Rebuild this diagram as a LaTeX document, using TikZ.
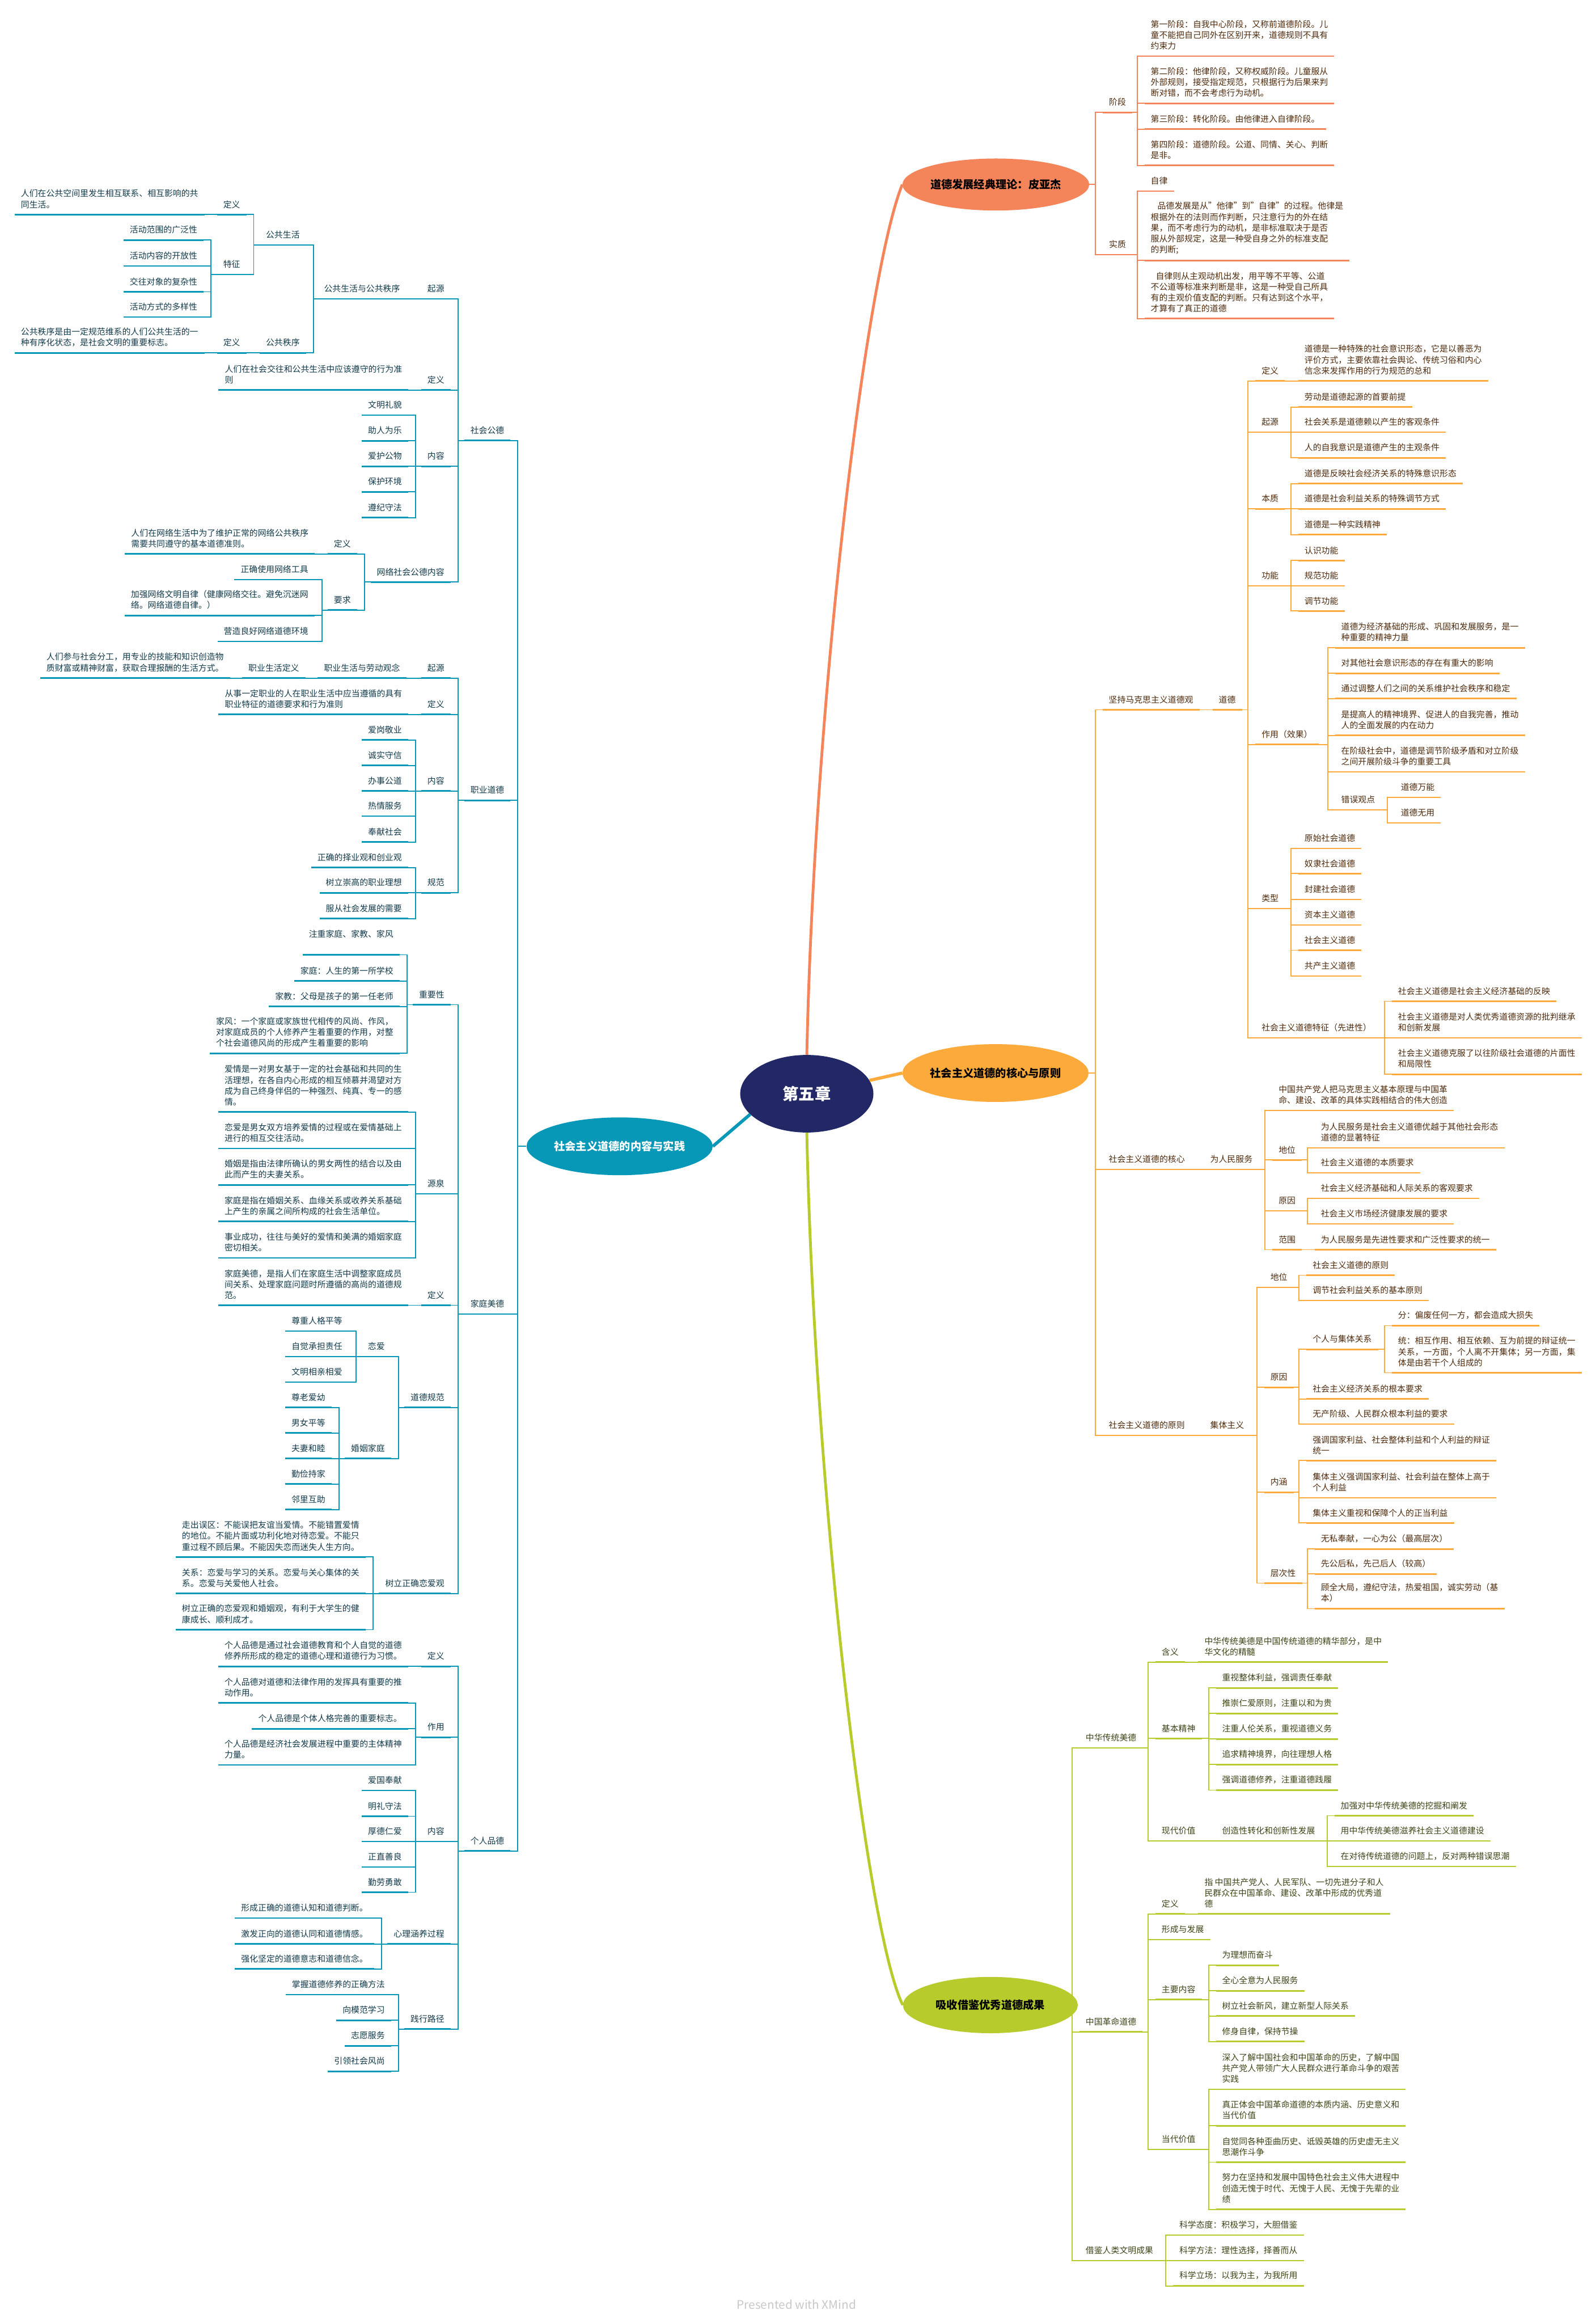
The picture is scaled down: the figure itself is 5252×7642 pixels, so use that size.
\documentclass[tikz,border=0pt]{standalone}
\usepackage{fontspec}
\setmainfont{Noto Sans CJK SC}
\usetikzlibrary{shapes.geometric, calc}
\definecolor{mmCoral}{HTML}{F4845A}
\definecolor{mmOrange}{HTML}{FBAA3B}
\definecolor{mmTeal}{HTML}{0798B8}
\definecolor{mmGreen}{HTML}{B8CB2C}
\definecolor{mmNavy}{HTML}{222766}
\definecolor{mmBrown}{HTML}{4E2A0C}
\definecolor{mmInk}{HTML}{123A4A}
\definecolor{mmOlive}{HTML}{3D4316}
\definecolor{mmMark}{HTML}{C8C8C8}
\newcommand{\topicfont}{\fontsize{7.9pt}{10.15pt}\selectfont}
\newcommand{\branchfont}{\fontsize{10.2pt}{12pt}\selectfont\bfseries}
\newcommand{\hubfont}{\fontsize{15pt}{18pt}\selectfont\bfseries}
\tikzset{
  topic/.style={inner xsep=0.2cm, inner ysep=0.2cm, font=\topicfont, align=left},
  cTopic/.style={topic, anchor=south west, text=mmBrown,
    append after command={(\tikzlastnode.south west) edge[draw=mmCoral, line width=1.4pt] (\tikzlastnode.south east)}},
  oTopic/.style={topic, anchor=south west, text=mmBrown,
    append after command={(\tikzlastnode.south west) edge[draw=mmOrange, line width=1.4pt] (\tikzlastnode.south east)}},
  gTopic/.style={topic, anchor=south west, text=mmOlive,
    append after command={(\tikzlastnode.south west) edge[draw=mmGreen, line width=1.4pt] (\tikzlastnode.south east)}},
  tTopic/.style={topic, anchor=south east, text=mmInk,
    append after command={(\tikzlastnode.south west) edge[draw=mmTeal, line width=1.4pt] (\tikzlastnode.south east)}},
  cLink/.style={draw=mmCoral, line width=1pt},
  oLink/.style={draw=mmOrange, line width=1pt},
  gLink/.style={draw=mmGreen, line width=1pt},
  tLink/.style={draw=mmTeal, line width=1pt},
  branch/.style={ellipse, inner sep=0pt, font=\branchfont},
  hub/.style={ellipse, fill=mmNavy, text=white, inner sep=0pt, font=\hubfont,
    minimum width=4.38cm, minimum height=2.55cm},
}

\begin{document}
\begin{tikzpicture}[x=0.01cm, y=-0.01cm]
  \useasboundingbox (0,0) rectangle (5252,7642);

  % centre and main topics
  \node[hub] (hub) at (2655,3598) {第五章};
  \node[branch, fill=mmCoral, minimum width=6.14cm, minimum height=1.71cm] (piaget) at (3277,607) {道德发展经典理论：皮亚杰};
  \node[branch, fill=mmOrange, minimum width=6.12cm, minimum height=1.9cm] (core) at (3276,3530) {社会主义道德的核心与原则};
  \node[branch, fill=mmTeal, text=white, minimum width=6.12cm, minimum height=1.9cm] (practice) at (2039,3771) {社会主义道德的内容与实践};
  \node[branch, fill=mmGreen, minimum width=5.75cm, minimum height=1.85cm] (absorb) at (3259,6596) {吸收借鉴优秀道德成果};

  \draw[line width=2.6pt, mmCoral] (hub.north) .. controls (2680,2300) and (2850,900) .. (piaget.west);
  \draw[line width=3pt, mmOrange] (hub.12) -- (core.west);
  \draw[line width=3pt, mmTeal] (hub.200) -- (practice.east);
  \draw[line width=2.6pt, mmGreen] (hub.south) .. controls (2680,4900) and (2850,6350) .. (absorb.west);

  % Piaget
  \node[cTopic] (c-stage) at (3629,370) {阶段};
  \node[cTopic] (c-essence) at (3629,838) {实质};
  \node[cTopic] (c-s1) at (3766,185) {第一阶段：自我中心阶段，又称前道德阶段。儿\\童不能把自己同外在区别开来，道德规则不具有\\约束力};
  \node[cTopic] (c-s2) at (3766,340) {第二阶段：他律阶段，又称权威阶段。儿童服从\\外部规则，接受指定规范，只根据行为后果来判\\断对错，而不会考虑行为动机。};
  \node[cTopic] (c-s3) at (3766,425) {第三阶段：转化阶段。由他律进入自律阶段。};
  \node[cTopic] (c-s4) at (3766,544) {第四阶段：道德阶段。公道、同情、关心、判断\\是非。};
  \node[cTopic] (c-e1) at (3766,629) {自律};
  \node[cTopic] (c-e2) at (3766,857) {\hspace*{0.8em}品德发展是从"他律"到"自律"的过程。他律是\\根据外在的法则而作判断，只注意行为的外在结\\果，而不考虑行为的动机，是非标准取决于是否\\服从外部规定，这是一种受自身之外的标准支配\\的判断;};
  \node[cTopic] (c-e3) at (3766,1048) {\hspace*{0.6em}自律则从主观动机出发，用平等不平等、公道\\不公道等标准来判断是非，这是一种受自己所具\\有的主观价值支配的判断。只有达到这个水平，\\才算有了真正的道德};

  \coordinate (piaget-v) at (3605,607);
  \foreach \k in {c-stage,c-essence} \draw[cLink] (piaget.east) -- (piaget-v) |- (\k.south west);
  \coordinate (c-stage-v) at (3742,370);
  \foreach \k in {c-s1,c-s2,c-s3,c-s4} \draw[cLink] (c-stage.south east) -- (c-stage-v) |- (\k.south west);
  \coordinate (c-essence-v) at (3742,838);
  \foreach \k in {c-e1,c-e2,c-e3} \draw[cLink] (c-essence.south east) -- (c-essence-v) |- (\k.south west);

  % core and principle
  \node[oTopic] (o-view) at (3628,2335) {坚持马克思主义道德观};
  \node[oTopic] (o-core) at (3628,3847) {社会主义道德的核心};
  \node[oTopic] (o-prin) at (3628,4722) {社会主义道德的原则};
  \node[oTopic] (o-moral) at (3990,2335) {道德};
  \node[oTopic] (o-def) at (4131,1253) {定义};
  \node[oTopic] (o-orig) at (4131,1422) {起源};
  \node[oTopic] (o-ess) at (4131,1674) {本质};
  \node[oTopic] (o-func) at (4131,1927) {功能};
  \node[oTopic] (o-role) at (4131,2449) {作用（效果）};
  \node[oTopic] (o-type) at (4131,2989) {类型};
  \node[oTopic] (o-feat) at (4131,3414) {社会主义道德特征（先进性）};
  \node[oTopic] (o-def1) at (4272,1253) {道德是一种特殊的社会意识形态，它是以善恶为\\评价方式，主要依靠社会舆论、传统习俗和内心\\信念来发挥作用的行为规范的总和};
  \node[oTopic] (o-orig1) at (4272,1339) {劳动是道德起源的首要前提};
  \node[oTopic] (o-orig2) at (4272,1422) {社会关系是道德赖以产生的客观条件};
  \node[oTopic] (o-orig3) at (4272,1506) {人的自我意识是道德产生的主观条件};
  \node[oTopic] (o-ess1) at (4272,1591) {道德是反映社会经济关系的特殊意识形态};
  \node[oTopic] (o-ess2) at (4272,1674) {道德是社会利益关系的特殊调节方式};
  \node[oTopic] (o-ess3) at (4272,1759) {道德是一种实践精神};
  \node[oTopic] (o-func1) at (4272,1844) {认识功能};
  \node[oTopic] (o-func2) at (4272,1927) {规范功能};
  \node[oTopic] (o-func3) at (4272,2010) {调节功能};
  \node[oTopic] (o-role1) at (4393,2131) {道德为经济基础的形成、巩固和发展服务，是一\\种重要的精神力量};
  \node[oTopic] (o-role2) at (4393,2215) {对其他社会意识形态的存在有重大的影响};
  \node[oTopic] (o-role3) at (4393,2298) {通过调整人们之间的关系维护社会秩序和稳定};
  \node[oTopic] (o-role4) at (4393,2419) {是提高人的精神境界、促进人的自我完善，推动\\人的全面发展的内在动力};
  \node[oTopic] (o-role5) at (4393,2539) {在阶级社会中，道德是调节阶级矛盾和对立阶级\\之间开展阶级斗争的重要工具};
  \node[oTopic] (o-wrong) at (4393,2664) {错误观点};
  \node[oTopic] (o-wrong1) at (4589,2623) {道德万能};
  \node[oTopic] (o-wrong2) at (4589,2707) {道德无用};
  \node[oTopic] (o-type1) at (4272,2791) {原始社会道德};
  \node[oTopic] (o-type2) at (4272,2874) {奴隶社会道德};
  \node[oTopic] (o-type3) at (4272,2959) {封建社会道德};
  \node[oTopic] (o-type4) at (4272,3043) {资本主义道德};
  \node[oTopic] (o-type5) at (4272,3126) {社会主义道德};
  \node[oTopic] (o-type6) at (4272,3211) {共产主义道德};
  \node[oTopic] (o-feat1) at (4580,3294) {社会主义道德是社会主义经济基础的反映};
  \node[oTopic] (o-feat2) at (4580,3414) {社会主义道德是对人类优秀道德资源的批判继承\\和创新发展};
  \node[oTopic] (o-feat3) at (4580,3534) {社会主义道德克服了以往阶级社会道德的片面性\\和局限性};
  \node[oTopic] (o-serve) at (3962,3847) {为人民服务};
  \node[oTopic] (o-serve1) at (4187,3653) {中国共产党人把马克思主义基本原理与中国革\\命、建设、改革的具体实践相结合的伟大创造};
  \node[oTopic] (o-pos) at (4187,3816) {地位};
  \node[oTopic] (o-why) at (4187,3983) {原因};
  \node[oTopic] (o-scope) at (4187,4111) {范围};
  \node[oTopic] (o-pos1) at (4326,3776) {为人民服务是社会主义道德优越于其他社会形态\\道德的显著特征};
  \node[oTopic] (o-pos2) at (4326,3858) {社会主义道德的本质要求};
  \node[oTopic] (o-why1) at (4326,3942) {社会主义经济基础和人际关系的客观要求};
  \node[oTopic] (o-why2) at (4326,4026) {社会主义市场经济健康发展的要求};
  \node[oTopic] (o-scope1) at (4326,4111) {为人民服务是先进性要求和广泛性要求的统一};
  \node[oTopic] (o-coll) at (3962,4722) {集体主义};
  \node[oTopic] (o-cpos) at (4160,4235) {地位};
  \node[oTopic] (o-cwhy) at (4160,4564) {原因};
  \node[oTopic] (o-cmean) at (4160,4909) {内涵};
  \node[oTopic] (o-clevel) at (4160,5208) {层次性};
  \node[oTopic] (o-cpos1) at (4299,4195) {社会主义道德的原则};
  \node[oTopic] (o-cpos2) at (4299,4278) {调节社会利益关系的基本原则};
  \node[oTopic] (o-rel) at (4299,4439) {个人与集体关系};
  \node[oTopic] (o-cwhy2) at (4299,4602) {社会主义经济关系的根本要求};
  \node[oTopic] (o-cwhy3) at (4299,4685) {无产阶级、人民群众根本利益的要求};
  \node[oTopic] (o-rel1) at (4580,4361) {分：偏废任何一方，都会造成大损失};
  \node[oTopic] (o-rel2) at (4580,4516) {统：相互作用、相互依赖、互为前提的辩证统一\\关系，一方面，个人离不开集体；另一方面，集\\体是由若干个人组成的};
  \node[oTopic] (o-cmean1) at (4299,4805) {强调国家利益、社会整体利益和个人利益的辩证\\统一};
  \node[oTopic] (o-cmean2) at (4299,4927) {集体主义强调国家利益、社会利益在整体上高于\\个人利益};
  \node[oTopic] (o-cmean3) at (4299,5010) {集体主义重视和保障个人的正当利益};
  \node[oTopic] (o-level1) at (4326,5096) {无私奉献，一心为公（最高层次）};
  \node[oTopic] (o-level2) at (4326,5178) {先公后私，先己后人（较高）};
  \node[oTopic] (o-level3) at (4326,5292) {顾全大局，遵纪守法，热爱祖国，诚实劳动（基\\本）};

  \coordinate (core-v) at (3604,3530);
  \foreach \k in {o-view,o-core,o-prin} \draw[oLink] (core.east) -- (core-v) |- (\k.south west);
  \draw[oLink] (o-view.south east) -- (o-moral.south west);
  \coordinate (o-moral-v) at (4107,2335);
  \foreach \k in {o-def,o-orig,o-ess,o-func,o-role,o-type,o-feat} \draw[oLink] (o-moral.south east) -- (o-moral-v) |- (\k.south west);
  \draw[oLink] (o-def.south east) -- (o-def1.south west);
  \coordinate (o-orig-v) at (4248,1422);
  \foreach \k in {o-orig1,o-orig2,o-orig3} \draw[oLink] (o-orig.south east) -- (o-orig-v) |- (\k.south west);
  \coordinate (o-ess-v) at (4248,1674);
  \foreach \k in {o-ess1,o-ess2,o-ess3} \draw[oLink] (o-ess.south east) -- (o-ess-v) |- (\k.south west);
  \coordinate (o-func-v) at (4248,1927);
  \foreach \k in {o-func1,o-func2,o-func3} \draw[oLink] (o-func.south east) -- (o-func-v) |- (\k.south west);
  \coordinate (o-role-v) at (4369,2449);
  \foreach \k in {o-role1,o-role2,o-role3,o-role4,o-role5,o-wrong} \draw[oLink] (o-role.south east) -- (o-role-v) |- (\k.south west);
  \coordinate (o-wrong-v) at (4565,2664);
  \foreach \k in {o-wrong1,o-wrong2} \draw[oLink] (o-wrong.south east) -- (o-wrong-v) |- (\k.south west);
  \coordinate (o-type-v) at (4248,2989);
  \foreach \k in {o-type1,o-type2,o-type3,o-type4,o-type5,o-type6} \draw[oLink] (o-type.south east) -- (o-type-v) |- (\k.south west);
  \coordinate (o-feat-v) at (4556,3414);
  \foreach \k in {o-feat1,o-feat2,o-feat3} \draw[oLink] (o-feat.south east) -- (o-feat-v) |- (\k.south west);
  \draw[oLink] (o-core.south east) -- (o-serve.south west);
  \coordinate (o-serve-v) at (4163,3847);
  \foreach \k in {o-serve1,o-pos,o-why,o-scope} \draw[oLink] (o-serve.south east) -- (o-serve-v) |- (\k.south west);
  \coordinate (o-pos-v) at (4302,3816);
  \foreach \k in {o-pos1,o-pos2} \draw[oLink] (o-pos.south east) -- (o-pos-v) |- (\k.south west);
  \coordinate (o-why-v) at (4302,3983);
  \foreach \k in {o-why1,o-why2} \draw[oLink] (o-why.south east) -- (o-why-v) |- (\k.south west);
  \draw[oLink] (o-scope.south east) -- (o-scope1.south west);
  \draw[oLink] (o-prin.south east) -- (o-coll.south west);
  \coordinate (o-coll-v) at (4136,4722);
  \foreach \k in {o-cpos,o-cwhy,o-cmean,o-clevel} \draw[oLink] (o-coll.south east) -- (o-coll-v) |- (\k.south west);
  \coordinate (o-cpos-v) at (4275,4235);
  \foreach \k in {o-cpos1,o-cpos2} \draw[oLink] (o-cpos.south east) -- (o-cpos-v) |- (\k.south west);
  \coordinate (o-cwhy-v) at (4275,4564);
  \foreach \k in {o-rel,o-cwhy2,o-cwhy3} \draw[oLink] (o-cwhy.south east) -- (o-cwhy-v) |- (\k.south west);
  \coordinate (o-rel-v) at (4556,4439);
  \foreach \k in {o-rel1,o-rel2} \draw[oLink] (o-rel.south east) -- (o-rel-v) |- (\k.south west);
  \coordinate (o-cmean-v) at (4275,4909);
  \foreach \k in {o-cmean1,o-cmean2,o-cmean3} \draw[oLink] (o-cmean.south east) -- (o-cmean-v) |- (\k.south west);
  \coordinate (o-clevel-v) at (4302,5208);
  \foreach \k in {o-level1,o-level2,o-level3} \draw[oLink] (o-clevel.south east) -- (o-clevel-v) |- (\k.south west);

  % absorbing good moral heritage
  \node[gTopic] (g-trad) at (3552,5750) {中华传统美德};
  \node[gTopic] (g-rev) at (3552,6684) {中国革命道德};
  \node[gTopic] (g-civ) at (3552,7437) {借鉴人类文明成果};
  \node[gTopic] (g-mean) at (3802,5468) {含义};
  \node[gTopic] (g-spirit) at (3802,5719) {基本精神};
  \node[gTopic] (g-value) at (3802,6056) {现代价值};
  \node[gTopic] (g-mean1) at (3943,5468) {中华传统美德是中国传统道德的精华部分，是中\\华文化的精髓};
  \node[gTopic] (g-sp1) at (4001,5553) {重视整体利益，强调责任奉献};
  \node[gTopic] (g-sp2) at (4001,5637) {推崇仁爱原则，注重以和为贵};
  \node[gTopic] (g-sp3) at (4001,5721) {注重人伦关系，重视道德义务};
  \node[gTopic] (g-sp4) at (4001,5805) {追求精神境界，向往理想人格};
  \node[gTopic] (g-sp5) at (4001,5889) {强调道德修养，注重道德践履};
  \node[gTopic] (g-transform) at (4001,6056) {创造性转化和创新性发展};
  \node[gTopic] (g-tf1) at (4391,5973) {加强对中华传统美德的挖掘和阐发};
  \node[gTopic] (g-tf2) at (4391,6056) {用中华传统美德滋养社会主义道德建设};
  \node[gTopic] (g-tf3) at (4391,6140) {在对待传统道德的问题上，反对两种错误思潮};
  \node[gTopic] (g-rdef) at (3802,6296) {定义};
  \node[gTopic] (g-rdev) at (3802,6381) {形成与发展};
  \node[gTopic] (g-rcont) at (3802,6578) {主要内容};
  \node[gTopic] (g-rval) at (3802,7071) {当代价值};
  \node[gTopic] (g-rdef1) at (3943,6296) {指 中国共产党人、人民军队、一切先进分子和人\\民群众在中国革命、建设、改革中形成的优秀道\\德};
  \node[gTopic] (g-rc1) at (4001,6465) {为理想而奋斗};
  \node[gTopic] (g-rc2) at (4001,6549) {全心全意为人民服务};
  \node[gTopic] (g-rc3) at (4001,6632) {树立社会新风，建立新型人际关系};
  \node[gTopic] (g-rc4) at (4001,6716) {修身自律，保持节操};
  \node[gTopic] (g-rv1) at (4001,6873) {深入了解中国社会和中国革命的历史，了解中国\\共产党人带领广大人民群众进行革命斗争的艰苦\\实践};
  \node[gTopic] (g-rv2) at (4001,6993) {真正体会中国革命道德的本质内涵、历史意义和\\当代价值};
  \node[gTopic] (g-rv3) at (4001,7113) {自觉同各种歪曲历史、诋毁英雄的历史虚无主义\\思潮作斗争};
  \node[gTopic] (g-rv4) at (4001,7268) {努力在坚持和发展中国特色社会主义伟大进程中\\创造无愧于时代、无愧于人民、无愧于先辈的业\\绩};
  \node[gTopic] (g-civ1) at (3860,7353) {科学态度：积极学习，大胆借鉴};
  \node[gTopic] (g-civ2) at (3860,7437) {科学方法：理性选择，择善而从};
  \node[gTopic] (g-civ3) at (3860,7520) {科学立场：以我为主，为我所用};

  \coordinate (absorb-v) at (3528,6596);
  \foreach \k in {g-trad,g-rev,g-civ} \draw[gLink] (absorb.east) -- (absorb-v) |- (\k.south west);
  \coordinate (g-trad-v) at (3778,5750);
  \foreach \k in {g-mean,g-spirit,g-value} \draw[gLink] (g-trad.south east) -- (g-trad-v) |- (\k.south west);
  \draw[gLink] (g-mean.south east) -- (g-mean1.south west);
  \coordinate (g-spirit-v) at (3977,5719);
  \foreach \k in {g-sp1,g-sp2,g-sp3,g-sp4,g-sp5} \draw[gLink] (g-spirit.south east) -- (g-spirit-v) |- (\k.south west);
  \draw[gLink] (g-value.south east) -- (g-transform.south west);
  \coordinate (g-transform-v) at (4367,6056);
  \foreach \k in {g-tf1,g-tf2,g-tf3} \draw[gLink] (g-transform.south east) -- (g-transform-v) |- (\k.south west);
  \coordinate (g-rev-v) at (3778,6684);
  \foreach \k in {g-rdef,g-rdev,g-rcont,g-rval} \draw[gLink] (g-rev.south east) -- (g-rev-v) |- (\k.south west);
  \draw[gLink] (g-rdef.south east) -- (g-rdef1.south west);
  \coordinate (g-rcont-v) at (3977,6578);
  \foreach \k in {g-rc1,g-rc2,g-rc3,g-rc4} \draw[gLink] (g-rcont.south east) -- (g-rcont-v) |- (\k.south west);
  \coordinate (g-rval-v) at (3977,7071);
  \foreach \k in {g-rv1,g-rv2,g-rv3,g-rv4} \draw[gLink] (g-rval.south east) -- (g-rval-v) |- (\k.south west);
  \coordinate (g-civ-v) at (3836,7437);
  \foreach \k in {g-civ1,g-civ2,g-civ3} \draw[gLink] (g-civ.south east) -- (g-civ-v) |- (\k.south west);

  % content and practice (left side)
  \node[tTopic] (t-pub) at (1680,1449) {社会公德};
  \node[tTopic] (t-job) at (1680,2633) {职业道德};
  \node[tTopic] (t-fam) at (1680,4323) {家庭美德};
  \node[tTopic] (t-per) at (1680,6089) {个人品德};

  \node[tTopic] (t-porig) at (1483,983) {起源};
  \node[tTopic] (t-pdef) at (1483,1283) {定义};
  \node[tTopic] (t-pcont) at (1483,1534) {内容};
  \node[tTopic] (t-pnet) at (1483,1915) {网络社会公德内容};
  \node[tTopic] (t-order) at (1337,983) {公共生活与公共秩序};
  \node[tTopic] (t-life) at (1007,806) {公共生活};
  \node[tTopic] (t-ord) at (1007,1161) {公共秩序};
  \node[tTopic] (t-ldef) at (811,706) {定义};
  \node[tTopic] (t-lfeat) at (811,903) {特征};
  \node[tTopic] (t-ldef1) at (673,706) {人们在公共空间里发生相互联系、相互影响的共\\同生活。};
  \node[tTopic] (t-lf1) at (670,790) {活动范围的广泛性};
  \node[tTopic] (t-lf2) at (670,875) {活动内容的开放性};
  \node[tTopic] (t-lf3) at (670,960) {交往对象的复杂性};
  \node[tTopic] (t-lf4) at (670,1043) {活动方式的多样性};
  \node[tTopic] (t-odef) at (811,1161) {定义};
  \node[tTopic] (t-odef1) at (673,1161) {公共秩序是由一定规范维系的人们公共生活的一\\种有序化状态，是社会文明的重要标志。};
  \node[tTopic] (t-pdef1) at (1344,1283) {人们在社会交往和公共生活中应该遵守的行为准\\则};
  \node[tTopic] (t-pc1) at (1343,1366) {文明礼貌};
  \node[tTopic] (t-pc2) at (1343,1450) {助人为乐};
  \node[tTopic] (t-pc3) at (1343,1534) {爱护公物};
  \node[tTopic] (t-pc4) at (1343,1618) {保护环境};
  \node[tTopic] (t-pc5) at (1343,1703) {遵纪守法};
  \node[tTopic] (t-ndef) at (1175,1822) {定义};
  \node[tTopic] (t-nreq) at (1175,2007) {要求};
  \node[tTopic] (t-ndef1) at (1036,1822) {人们在网络生活中为了维护正常的网络公共秩序\\需要共同遵守的基本道德准则。};
  \node[tTopic] (t-nr1) at (1035,1907) {正确使用网络工具};
  \node[tTopic] (t-nr2) at (1035,2025) {加强网络文明自律（健康网络交往。避免沉迷网\\络。网络道德自律。）};
  \node[tTopic] (t-nr3) at (1035,2110) {营造良好网络道德环境};

  \node[tTopic] (t-jorig) at (1483,2231) {起源};
  \node[tTopic] (t-jdef) at (1483,2350) {定义};
  \node[tTopic] (t-jcont) at (1483,2602) {内容};
  \node[tTopic] (t-jnorm) at (1483,2937) {规范};
  \node[tTopic] (t-jlabor) at (1337,2231) {职业生活与劳动观念};
  \node[tTopic] (t-jlife) at (1005,2231) {职业生活定义};
  \node[tTopic] (t-jlife1) at (757,2231) {人们参与社会分工，用专业的技能和知识创造物\\质财富或精神财富，获取合理报酬的生活方式。};
  \node[tTopic] (t-jdef1) at (1344,2350) {从事一定职业的人在职业生活中应当遵循的具有\\职业特征的道德要求和行为准则};
  \node[tTopic] (t-jc1) at (1343,2434) {爱岗敬业};
  \node[tTopic] (t-jc2) at (1343,2518) {诚实守信};
  \node[tTopic] (t-jc3) at (1343,2602) {办事公道};
  \node[tTopic] (t-jc4) at (1343,2685) {热情服务};
  \node[tTopic] (t-jc5) at (1343,2770) {奉献社会};
  \node[tTopic] (t-jn1) at (1343,2854) {正确的择业观和创业观};
  \node[tTopic] (t-jn2) at (1343,2937) {树立崇高的职业理想};
  \node[tTopic] (t-jn3) at (1343,3022) {服从社会发展的需要};

  \node[tTopic] (t-fimp) at (1483,3305) {重要性};
  \node[tTopic] (t-fsrc) at (1483,3927) {源泉};
  \node[tTopic] (t-fdef) at (1483,4294) {定义};
  \node[tTopic] (t-fnorm) at (1483,4630) {道德规范};
  \node[tTopic] (t-flove) at (1483,5242) {树立正确恋爱观};
  \node[tTopic] (t-fi1) at (1315,3141) {注重家庭、家教、家风\\\phantom{家}};
  \node[tTopic] (t-fi2) at (1315,3227) {家庭：人生的第一所学校};
  \node[tTopic] (t-fi3) at (1315,3311) {家教：父母是孩子的第一任老师};
  \node[tTopic] (t-fi4) at (1315,3465) {家风：一个家庭或家族世代相传的风尚、作风，\\对家庭成员的个人修养产生着重要的作用，对整\\个社会道德风尚的形成产生着重要的影响};
  \node[tTopic] (t-fs1) at (1343,3658) {爱情是一对男女基于一定的社会基础和共同的生\\活理想，在各自内心形成的相互倾慕并渴望对方\\成为自己终身伴侣的一种强烈、纯真、专一的感\\情。};
  \node[tTopic] (t-fs2) at (1343,3778) {恋爱是男女双方培养爱情的过程或在爱情基础上\\进行的相互交往活动。};
  \node[tTopic] (t-fs3) at (1343,3898) {婚姻是指由法律所确认的男女两性的结合以及由\\此而产生的夫妻关系。};
  \node[tTopic] (t-fs4) at (1343,4018) {家庭是指在婚姻关系、血缘关系或收养关系基础\\上产生的亲属之间所构成的社会生活单位。};
  \node[tTopic] (t-fs5) at (1343,4138) {事业成功，往往与美好的爱情和美满的婚姻家庭\\密切相关。};
  \node[tTopic] (t-fdef1) at (1343,4294) {家庭美德，是指人们在家庭生活中调整家庭成员\\间关系、处理家庭问题时所遵循的高尚的道德规\\范。};
  \node[tTopic] (t-flv) at (1287,4463) {恋爱};
  \node[tTopic] (t-fmar) at (1287,4798) {婚姻家庭};
  \node[tTopic] (t-lv1) at (1147,4379) {尊重人格平等};
  \node[tTopic] (t-lv2) at (1147,4463) {自觉承担责任};
  \node[tTopic] (t-lv3) at (1147,4547) {文明相亲相爱};
  \node[tTopic] (t-mr1) at (1091,4630) {尊老爱幼};
  \node[tTopic] (t-mr2) at (1091,4714) {男女平等};
  \node[tTopic] (t-mr3) at (1091,4798) {夫妻和睦};
  \node[tTopic] (t-mr4) at (1091,4882) {勤俭持家};
  \node[tTopic] (t-mr5) at (1091,4966) {邻里互助};
  \node[tTopic] (t-fl1) at (1203,5122) {走出误区：不能误把友谊当爱情。不能错置爱情\\的地位。不能片面或功利化地对待恋爱。不能只\\重过程不顾后果。不能因失恋而迷失人生方向。};
  \node[tTopic] (t-fl2) at (1203,5242) {关系：恋爱与学习的关系。恋爱与关心集体的关\\系。恋爱与关爱他人社会。};
  \node[tTopic] (t-fl3) at (1203,5361) {树立正确的恋爱观和婚姻观，有利于大学生的健\\康成长、顺利成才。};

  \node[tTopic] (t-idef) at (1483,5482) {定义};
  \node[tTopic] (t-irole) at (1483,5715) {作用};
  \node[tTopic] (t-icont) at (1483,6058) {内容};
  \node[tTopic] (t-ipsy) at (1483,6395) {心理涵养过程};
  \node[tTopic] (t-ipath) at (1483,6675) {践行路径};
  \node[tTopic] (t-idef1) at (1343,5482) {个人品德是通过社会道德教育和个人自觉的道德\\修养所形成的稳定的道德心理和道德行为习惯。};
  \node[tTopic] (t-ir1) at (1343,5602) {个人品德对道德和法律作用的发挥具有重要的推\\动作用。};
  \node[tTopic] (t-ir2) at (1343,5687) {个人品德是个体人格完善的重要标志。};
  \node[tTopic] (t-ir3) at (1343,5806) {个人品德是经济社会发展进程中重要的主体精神\\力量。};
  \node[tTopic] (t-ic1) at (1343,5890) {爱国奉献};
  \node[tTopic] (t-ic2) at (1343,5975) {明礼守法};
  \node[tTopic] (t-ic3) at (1343,6058) {厚德仁爱};
  \node[tTopic] (t-ic4) at (1343,6142) {正直善良};
  \node[tTopic] (t-ic5) at (1343,6225) {勤劳勇敢};
  \node[tTopic] (t-ip1) at (1231,6310) {形成正确的道德认知和道德判断。};
  \node[tTopic] (t-ip2) at (1231,6395) {激发正向的道德认同和道德情感。};
  \node[tTopic] (t-ip3) at (1231,6477) {强化坚定的道德意志和道德信念。};
  \node[tTopic] (t-iw1) at (1287,6562) {掌握道德修养的正确方法};
  \node[tTopic] (t-iw2) at (1287,6646) {向模范学习};
  \node[tTopic] (t-iw3) at (1287,6730) {志愿服务};
  \node[tTopic] (t-iw4) at (1287,6814) {引领社会风尚};

  \coordinate (practice-v) at (1704,3771);
  \foreach \k in {t-pub,t-job,t-fam,t-per} \draw[tLink] (practice.west) -- (practice-v) |- (\k.south east);
  \coordinate (t-pub-v) at (1507,1449);
  \foreach \k in {t-porig,t-pdef,t-pcont,t-pnet} \draw[tLink] (t-pub.south west) -- (t-pub-v) |- (\k.south east);
  \draw[tLink] (t-porig.south west) -- (t-order.south east);
  \coordinate (t-order-v) at (1031,983);
  \foreach \k in {t-life,t-ord} \draw[tLink] (t-order.south west) -- (t-order-v) |- (\k.south east);
  \coordinate (t-life-v) at (835,806);
  \foreach \k in {t-ldef,t-lfeat} \draw[tLink] (t-life.south west) -- (t-life-v) |- (\k.south east);
  \draw[tLink] (t-ldef.south west) -- (t-ldef1.south east);
  \coordinate (t-lfeat-v) at (694,903);
  \foreach \k in {t-lf1,t-lf2,t-lf3,t-lf4} \draw[tLink] (t-lfeat.south west) -- (t-lfeat-v) |- (\k.south east);
  \draw[tLink] (t-ord.south west) -- (t-odef.south east);
  \draw[tLink] (t-odef.south west) -- (t-odef1.south east);
  \draw[tLink] (t-pdef.south west) -- (t-pdef1.south east);
  \coordinate (t-pcont-v) at (1367,1534);
  \foreach \k in {t-pc1,t-pc2,t-pc3,t-pc4,t-pc5} \draw[tLink] (t-pcont.south west) -- (t-pcont-v) |- (\k.south east);
  \coordinate (t-pnet-v) at (1199,1915);
  \foreach \k in {t-ndef,t-nreq} \draw[tLink] (t-pnet.south west) -- (t-pnet-v) |- (\k.south east);
  \draw[tLink] (t-ndef.south west) -- (t-ndef1.south east);
  \coordinate (t-nreq-v) at (1059,2007);
  \foreach \k in {t-nr1,t-nr2,t-nr3} \draw[tLink] (t-nreq.south west) -- (t-nreq-v) |- (\k.south east);

  \coordinate (t-job-v) at (1507,2633);
  \foreach \k in {t-jorig,t-jdef,t-jcont,t-jnorm} \draw[tLink] (t-job.south west) -- (t-job-v) |- (\k.south east);
  \draw[tLink] (t-jorig.south west) -- (t-jlabor.south east);
  \draw[tLink] (t-jlabor.south west) -- (t-jlife.south east);
  \draw[tLink] (t-jlife.south west) -- (t-jlife1.south east);
  \draw[tLink] (t-jdef.south west) -- (t-jdef1.south east);
  \coordinate (t-jcont-v) at (1367,2602);
  \foreach \k in {t-jc1,t-jc2,t-jc3,t-jc4,t-jc5} \draw[tLink] (t-jcont.south west) -- (t-jcont-v) |- (\k.south east);
  \coordinate (t-jnorm-v) at (1367,2937);
  \foreach \k in {t-jn1,t-jn2,t-jn3} \draw[tLink] (t-jnorm.south west) -- (t-jnorm-v) |- (\k.south east);

  \coordinate (t-fam-v) at (1507,4323);
  \foreach \k in {t-fimp,t-fsrc,t-fdef,t-fnorm,t-flove} \draw[tLink] (t-fam.south west) -- (t-fam-v) |- (\k.south east);
  \coordinate (t-fimp-v) at (1339,3305);
  \foreach \k in {t-fi1,t-fi2,t-fi3,t-fi4} \draw[tLink] (t-fimp.south west) -- (t-fimp-v) |- (\k.south east);
  \coordinate (t-fsrc-v) at (1367,3927);
  \foreach \k in {t-fs1,t-fs2,t-fs3,t-fs4,t-fs5} \draw[tLink] (t-fsrc.south west) -- (t-fsrc-v) |- (\k.south east);
  \draw[tLink] (t-fdef.south west) -- (t-fdef1.south east);
  \coordinate (t-fnorm-v) at (1311,4630);
  \foreach \k in {t-flv,t-fmar} \draw[tLink] (t-fnorm.south west) -- (t-fnorm-v) |- (\k.south east);
  \coordinate (t-flv-v) at (1171,4463);
  \foreach \k in {t-lv1,t-lv2,t-lv3} \draw[tLink] (t-flv.south west) -- (t-flv-v) |- (\k.south east);
  \coordinate (t-fmar-v) at (1115,4798);
  \foreach \k in {t-mr1,t-mr2,t-mr3,t-mr4,t-mr5} \draw[tLink] (t-fmar.south west) -- (t-fmar-v) |- (\k.south east);
  \coordinate (t-flove-v) at (1227,5242);
  \foreach \k in {t-fl1,t-fl2,t-fl3} \draw[tLink] (t-flove.south west) -- (t-flove-v) |- (\k.south east);

  \coordinate (t-per-v) at (1507,6089);
  \foreach \k in {t-idef,t-irole,t-icont,t-ipsy,t-ipath} \draw[tLink] (t-per.south west) -- (t-per-v) |- (\k.south east);
  \draw[tLink] (t-idef.south west) -- (t-idef1.south east);
  \coordinate (t-irole-v) at (1367,5715);
  \foreach \k in {t-ir1,t-ir2,t-ir3} \draw[tLink] (t-irole.south west) -- (t-irole-v) |- (\k.south east);
  \coordinate (t-icont-v) at (1367,6058);
  \foreach \k in {t-ic1,t-ic2,t-ic3,t-ic4,t-ic5} \draw[tLink] (t-icont.south west) -- (t-icont-v) |- (\k.south east);
  \coordinate (t-ipsy-v) at (1255,6395);
  \foreach \k in {t-ip1,t-ip2,t-ip3} \draw[tLink] (t-ipsy.south west) -- (t-ipsy-v) |- (\k.south east);
  \coordinate (t-ipath-v) at (1311,6675);
  \foreach \k in {t-iw1,t-iw2,t-iw3,t-iw4} \draw[tLink] (t-ipath.south west) -- (t-ipath-v) |- (\k.south east);

  \node[font=\fontsize{11pt}{13pt}\selectfont, text=mmMark] (mark) at (2621,7581) {Presented with XMind};
\end{tikzpicture}
\end{document}
